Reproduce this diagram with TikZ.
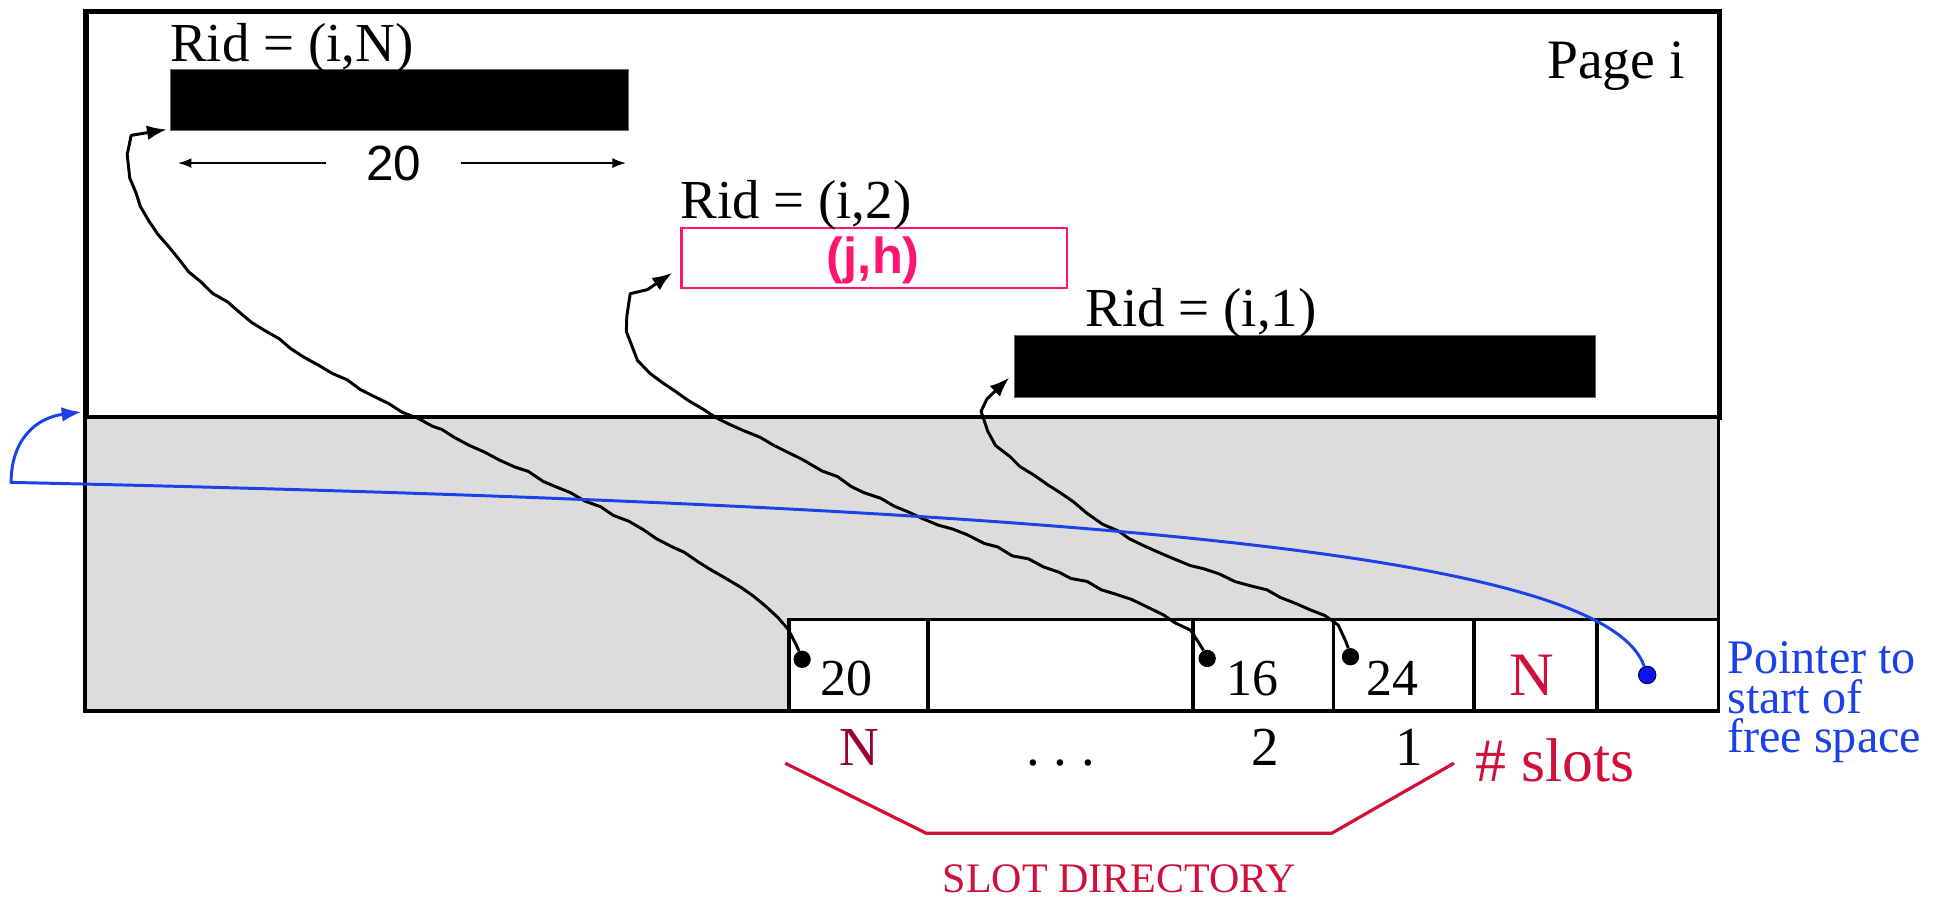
\documentclass[tikz,border=0pt]{standalone}
\usepackage{fontspec}
\setmainfont{Liberation Serif}
\newfontfamily\helv{Liberation Sans}
\usetikzlibrary{arrows.meta,calc,decorations.pathmorphing}
\definecolor{pagegrey}{HTML}{DCDCDC}
\definecolor{rpink}{HTML}{FF1570}
\definecolor{slotred}{HTML}{D0103A}
\definecolor{darkred}{HTML}{990033}
\definecolor{pblue}{HTML}{1A42E8}
\definecolor{dotblue}{HTML}{0A14F0}
\begin{document}
\begin{tikzpicture}[x=1pt,y=-1pt,
  lbl/.style={inner sep=0pt, font=\fontsize{44.5}{48}\selectfont},
  cell/.style={draw, fill=white, line width=3pt, minimum height=74pt, anchor=north west, inner sep=0pt},
  bar/.style={fill=black, draw=black!60, line width=0.8pt, anchor=north west, inner sep=0pt},
  wire/.style={line width=2.4pt, line join=round, -{Latex[length=16pt,width=12pt]},
    decorate, decoration={random steps, segment length=13pt, amplitude=1.4pt, pre length=6pt, post length=24pt}},
  dimline/.style={line width=1.5pt, -{Latex[length=11pt,width=8pt]}},
  dot/.style={circle, fill=black, inner sep=0pt, minimum size=14pt},
]
\pgfmathsetseed{11}
\useasboundingbox (0,0) rectangle (1568,728);
% page
\node[draw, line width=4.2pt, fill=white, anchor=north west, minimum width=1322pt, minimum height=328.5pt, inner sep=0pt] (page) at (67.5,7.5) {};
\node[draw, line width=3pt, fill=pagegrey, anchor=north west, minimum width=1322pt, minimum height=238pt, inner sep=0pt] (free) at (67.5,336) {};
% slot cells
\node[cell, minimum width=112.5pt] (c20) at (637,500) {};
\node[cell, minimum width=214.5pt] (cdots) at (749.5,500) {};
\node[cell, minimum width=114pt] (c16) at (964,500) {};
\node[cell, minimum width=113.5pt] (c24) at (1078,500) {};
\node[cell, minimum width=100pt] (cN) at (1191.5,500) {};
\node[cell, minimum width=98pt] (cfree) at (1291.5,500) {};
% records
\node[bar, minimum width=370.5pt, minimum height=49pt] (bar1) at (137.5,56) {};
\node[draw=rpink, line width=2.2pt, fill=white, anchor=north west, minimum width=312pt, minimum height=48.5pt, inner sep=0pt] (pbox) at (550.6,183.5) {};
\node[bar, minimum width=470pt, minimum height=50.5pt] (bar2) at (821,271) {};
% labels
\node[lbl, anchor=base west] (rid1) at (137.5,49.4) {Rid = (i,N)};
\node[lbl, anchor=base west] (rid2) at (550.6,176.7) {Rid = (i,2)};
\node[lbl, anchor=base west] (rid3) at (878.6,264.5) {Rid = (i,1)};
\node[lbl, font=\fontsize{45}{48}\selectfont, anchor=base east] (pagei) at (1364,63.4) {Page i};
\node[inner sep=0pt, font=\helv\bfseries\fontsize{41}{44}\selectfont, text=rpink] (jh) at (707,211) {(j,h)};
\node[inner xsep=32pt, inner ysep=0pt, font=\helv\fontsize{40}{44}\selectfont] (twenty) at (318.7,132) {20};
\draw[dimline, shorten >=6.5pt] (twenty.west) -- (bar1.west |- twenty.west);
\draw[dimline, shorten >=2pt] (twenty.east) -- (bar1.east |- twenty.east);
% cell contents
\node[lbl, font=\fontsize{42}{46}\selectfont, anchor=base west] (t20) at (664.3,563) {20};
\node[lbl, font=\fontsize{42}{46}\selectfont, anchor=base west] (t16) at (992.5,563) {16};
\node[lbl, font=\fontsize{42}{46}\selectfont, anchor=base west] (t24) at (1106.3,563) {24};
\node[lbl, font=\fontsize{50}{54}\selectfont, anchor=base, text=slotred] (tN) at (1240,563) {N};
% slot numbers below
\node[lbl, anchor=base, text=darkred] (nN) at (696,620) {N};
\node[lbl, anchor=base] (ndots) at (858.6,620) {.\hspace{0.25em}.\hspace{0.25em}.};
\node[lbl, anchor=base] (n2) at (1024.5,620) {2};
\node[lbl, anchor=base] (n1) at (1141,620) {1};
\node[lbl, font=\fontsize{50}{54}\selectfont, anchor=base west, text=slotred] (nslots) at (1194,633) {\# slots};
\draw[slotred, line width=2.6pt] (635.6,617.8) -- (749.8,674.5) -- (1078,674.5) -- (1177,617.8);
\node[lbl, font=\fontsize{34}{38}\selectfont, anchor=base, text=slotred] (sdir) at (906,722.5) {SLOT DIRECTORY};
% pointer text
\node[inner sep=0pt, align=left, font=\fontsize{39}{32}\selectfont, anchor=north west, text=pblue] (ptr) at (1398,519.5) {Pointer to\\start of\\free space};
% dots
\node[dot] (d20) at (649.3,533.7) {};
\node[dot] (d16) at (977.2,533) {};
\node[dot] (d24) at (1093.2,531.6) {};
\node[circle, fill=dotblue, draw=blue!40!black, line width=0.9pt, inner sep=0pt, minimum size=14pt] (bdot) at (1333.4,546.4) {};
% record pointers
\draw[wire] (d20) .. controls (625,470) and (480,410) .. (350,345)
  .. controls (180,260) and (102,190) .. (105,125)
  .. controls (106,112) and (118,107) .. ($(bar1.south west)+(-2.5,-1)$);
\draw[wire] (d16) .. controls (955,485) and (800,455) .. (650,372)
  .. controls (560,330) and (510,300) .. (509,268)
  .. controls (508,250) and (510,244) .. (516,240) -- ($(pbox.west)+(-6.5,12)$);
\draw[wire] (d24) .. controls (1080,480) and (960,470) .. (880,415)
  .. controls (820,375) and (797,360) .. (798,332)
  .. controls (799,322) and (808,316) .. ($(bar2.west)+(-4,9)$);
% free space pointer
\coordinate (bturn) at (9,390.5);
\draw[pblue, line width=2.4pt, -{Latex[length=16pt,width=12pt]}] (bdot) .. controls (1300,450) and (900,410) .. (bturn)
  .. controls (9,355) and (30,338) .. ($(free.north west)+(-1.5,-2.5)$);
\end{tikzpicture}
\end{document}
